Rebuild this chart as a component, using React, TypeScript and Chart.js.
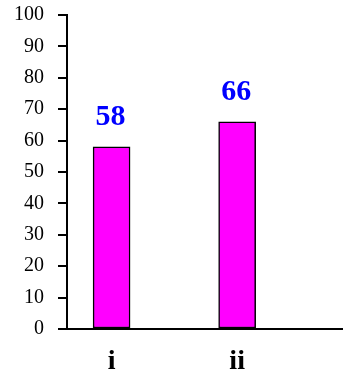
import React, { useEffect, useRef } from "react";
import { Chart, registerables } from "chart.js";

Chart.register(...registerables);

const categories = ["i", "ii"];
const values = [58, 66];
const yTicks = [0, 10, 20, 30, 40, 50, 60, 70, 80, 90, 100];

const FONT = "'Liberation Serif', 'Times New Roman', serif";

const valueLabelPlugin = {
  id: "valueLabels",
  afterDatasetsDraw(chart: any) {
    const ctx = chart.ctx;
    const meta = chart.getDatasetMeta(0);
    ctx.save();
    ctx.font = `bold 30px ${FONT}`;
    ctx.fillStyle = "#0000FF";
    ctx.textAlign = "center";
    ctx.textBaseline = "alphabetic";
    meta.data.forEach((bar: any, i: number) => {
      ctx.fillText(String(values[i]), bar.x - 1, bar.y - 22);
    });
    ctx.restore();
  },
};

export default function App() {
  const ref = useRef<HTMLCanvasElement | null>(null);
  useEffect(() => {
    document.body.style.margin = "0";
    if (!ref.current) return;
    const chart = new Chart(ref.current, {
      type: "bar",
      data: {
        datasets: [
          {
            data: values.map((v, i) => ({ x: i + 1, y: v })),
            backgroundColor: "#FF00FF",
            borderColor: "#000000",
            borderWidth: 1.5,
            borderSkipped: false,
            barThickness: 37,
          },
        ],
      },
      options: {
        animation: false,
        responsive: false,
        maintainAspectRatio: false,
        layout: { padding: { top: 15, right: 0, left: 0, bottom: 0 } },
        plugins: { legend: { display: false }, tooltip: { enabled: false } },
        scales: {
          x: {
            type: "linear",
            offset: false,
            min: 0.645,
            max: 2.843,
            grid: { display: false, drawTicks: false, offset: false },
            border: { display: true, color: "#000", width: 2 },
            afterBuildTicks: (scale: any) => {
              scale.ticks = categories.map((_, i) => ({ value: i + 1 }));
            },
            afterFit: (scale: any) => {
              scale.height = 49;
              scale.paddingLeft = 0;
              scale.paddingRight = 0;
            },
            ticks: {
              autoSkip: false,
              maxRotation: 0,
              padding: 16,
              color: "#000",
              font: { family: FONT, size: 28, weight: "bold" },
              callback: (v: any) => categories[Math.round(Number(v)) - 1] ?? "",
            },
          },
          y: {
            min: 0,
            max: 100,
            afterBuildTicks: (scale: any) => {
              scale.ticks = yTicks.map((v) => ({ value: v }));
            },
            afterFit: (scale: any) => {
              scale.width = 67;
              scale.paddingTop = 0;
              scale.paddingBottom = 0;
            },
            grid: {
              display: true,
              drawOnChartArea: false,
              drawTicks: true,
              tickLength: 9,
              color: "#000",
              lineWidth: 2,
            },
            border: { display: true, color: "#000", width: 2 },
            ticks: {
              padding: 14,
              color: "#000",
              font: { family: FONT, size: 20 },
            },
          },
        },
      },
      plugins: [valueLabelPlugin],
    } as any);
    return () => chart.destroy();
  }, []);
  return (
    <div style={{ position: "absolute", left: 0, top: 0, width: 343, height: 378 }}>
      <canvas ref={ref} width={343} height={378} style={{ width: 343, height: 378 }} />
    </div>
  );
}
